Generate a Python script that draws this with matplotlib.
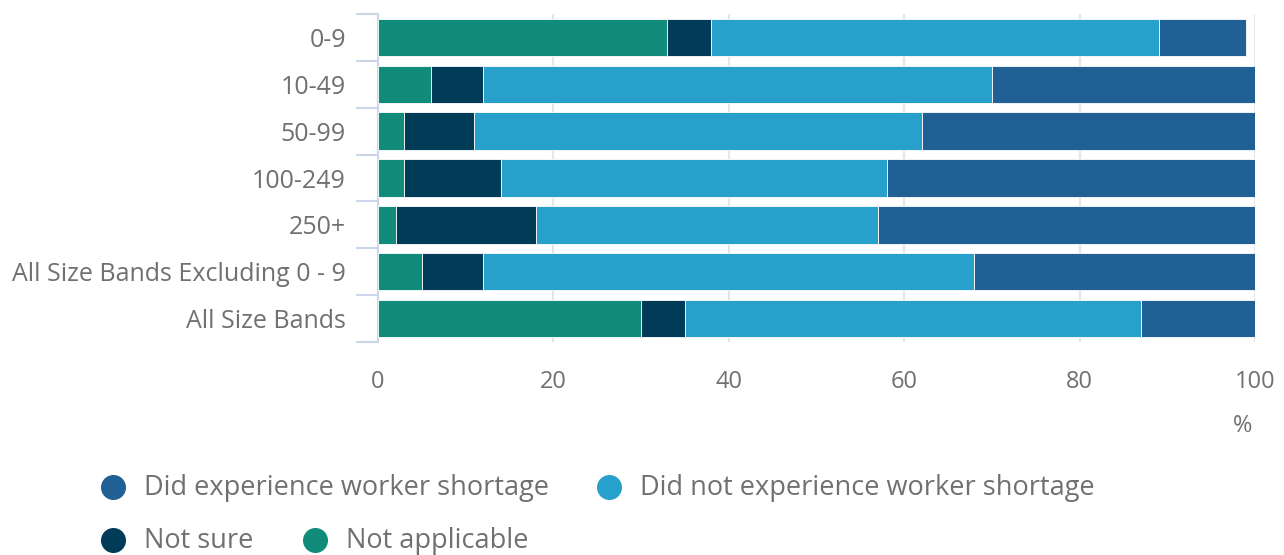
import numpy as np
import matplotlib
matplotlib.use("Agg")
import matplotlib.pyplot as plt
from matplotlib.lines import Line2D

# data (percent)
categories = ["0-9", "10-49", "50-99", "100-249", "250+",
              "All Size Bands Excluding 0 - 9", "All Size Bands"]
not_applicable = [33, 6, 3, 3, 2, 5, 30]
not_sure = [5, 6, 8, 11, 16, 7, 5]
did_not = [51, 58, 51, 44, 39, 56, 52]
did = [10, 30, 38, 42, 43, 32, 13]

series_names = ["Did experience worker shortage", "Did not experience worker shortage",
                "Not sure", "Not applicable"]
colors = ["#206095", "#27a0cc", "#003c57", "#118c7b"]
text_col = "#707070"

plt.rcParams['font.family'] = ['Open Sans', 'DejaVu Sans']

W, H = 1284, 555
fig = plt.figure(figsize=(W / 100, H / 100), dpi=100)
ax = fig.add_axes([378 / W, 1 - 342 / H, (1255 - 378) / W, (342 - 14) / H])

y = np.arange(len(categories))
left = np.zeros(len(categories))
# stacking order from left: not applicable, not sure, did not, did
for vals, col in [(not_applicable, colors[3]), (not_sure, colors[2]),
                  (did_not, colors[1]), (did, colors[0])]:
    ax.barh(y, vals, left=left, height=0.8, color=col, edgecolor="white",
            linewidth=0.6, zorder=3)
    left = left + np.array(vals)

ax.set_xlim(0, 100)
ax.set_ylim(len(categories) - 0.5, -0.5)
ax.set_xticks([0, 20, 40, 60, 80, 100])
ax.grid(axis="x", color="#e6e6e6", linewidth=1.5, zorder=0)
ax.set_yticks(y)
ax.set_yticklabels(categories)
ax.set_yticks(np.arange(len(categories) + 1) - 0.5, minor=True)

for s in ["top", "right", "bottom"]:
    ax.spines[s].set_visible(False)
ax.spines["left"].set_color("#ccd6eb")
ax.spines["left"].set_linewidth(1.5)

ax.tick_params(axis="y", which="major", length=0, pad=23, labelsize=18, labelcolor=text_col)
ax.tick_params(axis="y", which="minor", length=16, width=1.5, color="#ccd6eb")
ax.tick_params(axis="x", length=0, pad=20, labelsize=17, labelcolor=text_col)

fig.text(1243 / W, 1 - 426 / H, "%", ha="center", va="center", fontsize=17, color=text_col)

# legend laid out like the reference (two rows, wrapped)
legend_items = [(113, 487, 0), (609, 487, 1), (113, 540, 2), (315, 540, 3)]
for cx, cy, i in legend_items:
    fig.add_artist(Line2D([cx / W], [1 - cy / H], marker="o", markersize=17,
                          color=colors[i], linestyle="none", transform=fig.transFigure))
    fig.text((cx + 31) / W, 1 - (cy + 1) / H, series_names[i], ha="left", va="center",
             fontsize=19.5, color=text_col)

fig.savefig("out.png", dpi=100)
